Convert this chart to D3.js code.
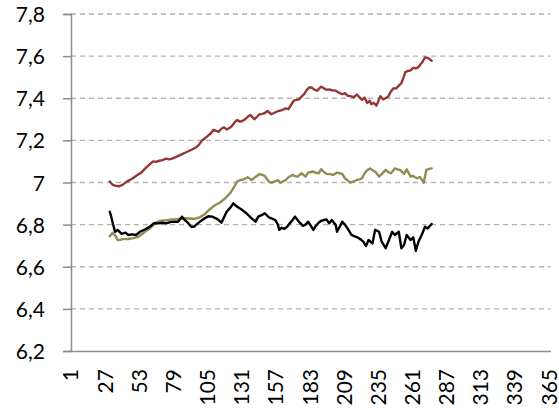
<!DOCTYPE html>
<html>
<head>
<meta charset="utf-8">
<script src="https://cdn.jsdelivr.net/npm/d3@7/dist/d3.min.js"></script>
<style>
  html, body { margin: 0; padding: 0; background: #fff; }
  svg { display: block; }
  text { font-family: Lato, "Open Sans", sans-serif; fill: #000; }
</style>
</head>
<body>
<svg id="chart" width="559" height="409"></svg>
<script>
// ---- data ----
const dayTicks = [1, 27, 53, 79, 105, 131, 157, 183, 209, 235, 261, 287, 313, 339, 365];
const yTicks = [6.2, 6.4, 6.6, 6.8, 7.0, 7.2, 7.4, 7.6, 7.8];

const redLine = [
  [30,7.005],[32,6.990],[34,6.985],[37,6.982],[40,6.990],[43,7.004],[47,7.018],[51,7.036],[54,7.047],[57,7.067],
  [61,7.090],[63,7.100],[65,7.098],[67,7.102],[70,7.106],[73,7.113],[75,7.110],[77,7.112],[81,7.123],[85,7.135],
  [89,7.146],[93,7.158],[96,7.168],[98,7.180],[100,7.198],[102,7.208],[104,7.218],[107,7.234],[109,7.250],[111,7.245],
  [113,7.241],[115,7.255],[117,7.262],[119,7.252],[121,7.258],[123,7.268],[125,7.285],[127,7.297],[129,7.289],[131,7.292],
  [133,7.300],[135,7.312],[137,7.321],[140,7.300],[142,7.312],[144,7.324],[146,7.326],[148,7.329],[150,7.340],[153,7.324],
  [155,7.330],[157,7.336],[159,7.340],[161,7.344],[164,7.352],[166,7.348],[168,7.368],[170,7.389],[172,7.392],[174,7.395],
  [176,7.408],[178,7.420],[180,7.440],[182,7.452],[184,7.450],[186,7.440],[188,7.436],[190,7.450],[191,7.455],[193,7.447],
  [195,7.440],[197,7.442],[199,7.438],[202,7.436],[204,7.428],[207,7.419],[209,7.424],[211,7.412],[213,7.410],[216,7.405],
  [218,7.418],[220,7.405],[222,7.392],[224,7.403],[226,7.378],[228,7.388],[229,7.372],[231,7.378],[233,7.365],[236,7.410],
  [238,7.395],[240,7.400],[242,7.408],[244,7.432],[246,7.448],[248,7.446],[250,7.460],[252,7.472],[254,7.505],[255,7.524],
  [257,7.530],[259,7.532],[261,7.545],[263,7.542],[265,7.548],[267,7.565],[268,7.572],[270,7.594],[272,7.592],[273,7.588],
  [275,7.578]
];

const oliveLine = [
  [30,6.745],[32,6.760],[34,6.750],[36,6.727],[38,6.728],[40,6.731],[44,6.732],[48,6.736],[52,6.743],[55,6.758],
  [58,6.772],[61,6.784],[64,6.803],[67,6.815],[70,6.820],[73,6.820],[77,6.825],[81,6.826],[85,6.828],[89,6.830],
  [92,6.828],[95,6.828],[99,6.836],[103,6.853],[106,6.872],[110,6.892],[114,6.905],[118,6.925],[122,6.952],[125,6.983],
  [127,7.005],[130,7.012],[132,7.015],[135,7.025],[138,7.012],[140,7.022],[142,7.031],[144,7.040],[146,7.036],[148,7.031],
  [151,7.004],[153,6.999],[156,7.005],[158,7.012],[160,6.999],[162,7.005],[164,7.012],[166,7.025],[169,7.036],[171,7.030],
  [173,7.028],[176,7.044],[179,7.028],[181,7.047],[183,7.050],[185,7.052],[187,7.046],[189,7.044],[191,7.063],[193,7.050],
  [195,7.041],[198,7.040],[200,7.036],[203,7.047],[205,7.044],[207,7.041],[209,7.020],[211,7.010],[213,6.999],[216,7.006],
  [218,7.012],[220,7.015],[222,7.020],[224,7.044],[226,7.058],[228,7.067],[230,7.058],[232,7.052],[235,7.028],[237,7.040],
  [240,7.060],[242,7.050],[244,7.044],[246,7.058],[247,7.067],[249,7.062],[251,7.060],[254,7.041],[256,7.063],[259,7.028],
  [261,7.032],[262,7.026],[264,7.020],[266,7.026],[268,7.010],[269,6.999],[270,7.030],[271,7.060],[273,7.064],[275,7.067]
];

const blackLine = [
  [30,6.861],[31,6.840],[33,6.790],[34,6.766],[36,6.775],[39,6.756],[42,6.762],[44,6.751],[47,6.754],[50,6.751],
  [53,6.766],[57,6.778],[60,6.788],[64,6.808],[67,6.806],[70,6.809],[73,6.806],[76,6.812],[79,6.814],[82,6.814],
  [85,6.838],[87,6.822],[89,6.812],[92,6.790],[94,6.790],[97,6.806],[101,6.825],[105,6.840],[108,6.838],[112,6.826],
  [115,6.809],[117,6.835],[119,6.861],[122,6.882],[124,6.901],[127,6.885],[130,6.873],[134,6.854],[138,6.830],[141,6.814],
  [143,6.838],[146,6.846],[148,6.854],[151,6.835],[153,6.830],[156,6.822],[158,6.800],[159,6.775],[161,6.785],[163,6.780],
  [165,6.790],[167,6.806],[169,6.820],[171,6.838],[174,6.814],[177,6.794],[179,6.800],[181,6.814],[183,6.795],[185,6.775],
  [187,6.795],[189,6.809],[191,6.818],[193,6.822],[195,6.825],[197,6.806],[199,6.822],[202,6.798],[203,6.766],[205,6.790],
  [207,6.814],[209,6.800],[211,6.782],[214,6.751],[217,6.743],[219,6.738],[221,6.730],[223,6.719],[225,6.699],[227,6.727],
  [230,6.711],[232,6.775],[235,6.766],[237,6.719],[240,6.688],[242,6.719],[245,6.766],[247,6.751],[250,6.766],[252,6.688],
  [254,6.703],[256,6.751],[259,6.727],[261,6.740],[263,6.676],[265,6.719],[268,6.759],[270,6.790],[272,6.782],[275,6.803]
];

const seriesColors = { red: "#953735", olive: "#948A54", black: "#000000" };

// ---- layout ----
const svg = d3.select("#chart");
const plotLeft = 71, plotRight = 550.5, plotTop = 14, plotBottom = 351;

const x = d3.scaleLinear().domain([0.5, 365.5]).range([plotLeft, plotRight]);
const y = d3.scaleLinear().domain([6.2, 7.8]).range([plotBottom, plotTop]);

const fmt = v => {
  const s = (Math.round(v * 10) / 10).toString();
  return s.replace(".", ",");
};

// gridlines
svg.append("g")
  .selectAll("line")
  .data(yTicks.filter(v => v > 6.2))
  .join("line")
  .attr("x1", plotLeft).attr("x2", plotRight)
  .attr("y1", d => y(d)).attr("y2", d => y(d))
  .attr("stroke", "#b3b3b3")
  .attr("stroke-width", 1.3)
  .attr("stroke-dasharray", "5,4");

// y axis
const yAxis = d3.axisLeft(y).tickValues(yTicks).tickSize(8).tickPadding(18).tickFormat(fmt);
const gy = svg.append("g").attr("transform", `translate(${plotLeft},0)`).call(yAxis);
gy.select(".domain").attr("stroke", "#8c8c8c").attr("stroke-width", 1.5);
gy.selectAll(".tick line").attr("stroke", "#8c8c8c").attr("stroke-width", 1.5);
gy.selectAll(".tick text")
  .style("font-family", "Lato, 'Open Sans', sans-serif")
  .style("font-size", "21px")
  .attr("fill", "#000")
  .attr("dy", "0.36em");

// x axis
const xAxis = d3.axisBottom(x).tickValues(dayTicks).tickSize(0).tickFormat(d => String(d));
const gx = svg.append("g").attr("transform", `translate(0,${plotBottom})`).call(xAxis);
gx.select(".domain").attr("stroke", "#8c8c8c").attr("stroke-width", 1.5);
gx.selectAll(".tick text")
  .style("font-family", "Lato, 'Open Sans', sans-serif")
  .style("font-size", "21px")
  .attr("fill", "#000")
  .attr("text-anchor", "end")
  .attr("transform", "rotate(-90)")
  .attr("x", -18)
  .attr("y", 0)
  .attr("dy", "0.3em");

// lines
const line = d3.line().x(d => x(d[0])).y(d => y(d[1]));
const series = [
  { data: oliveLine, color: seriesColors.olive },
  { data: blackLine, color: seriesColors.black },
  { data: redLine, color: seriesColors.red }
];
svg.append("g")
  .selectAll("path")
  .data(series)
  .join("path")
  .attr("d", d => line(d.data))
  .attr("fill", "none")
  .attr("stroke", d => d.color)
  .attr("stroke-width", 2.4)
  .attr("stroke-linejoin", "round")
  .attr("stroke-linecap", "round");
</script>
</body>
</html>
